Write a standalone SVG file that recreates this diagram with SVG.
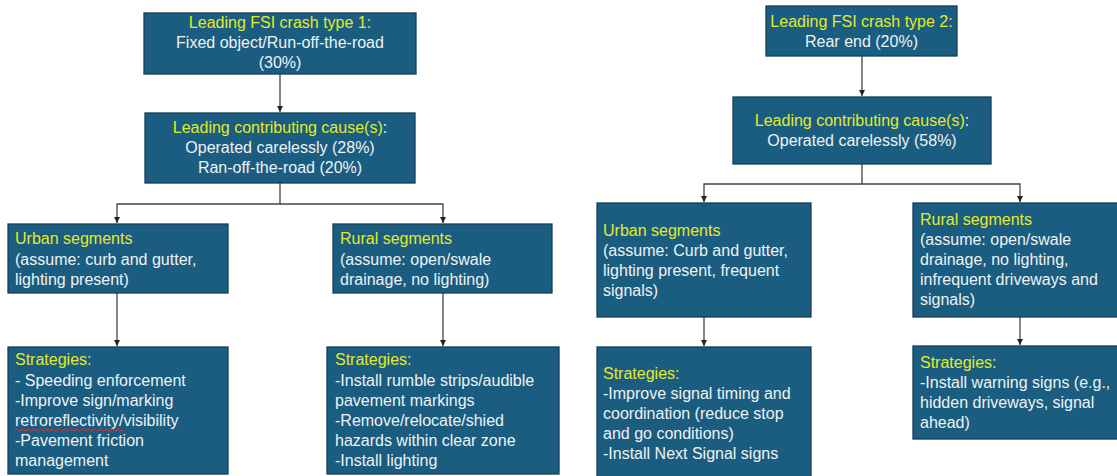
<svg xmlns="http://www.w3.org/2000/svg" width="1117" height="476" viewBox="0 0 1117 476">
<style>
.box{fill:#1a5d80;stroke:#143e55;stroke-width:1.3}
text{font-family:"Liberation Sans",Arial,sans-serif;font-size:16px;fill:#eef2f4}
.y{fill:#e4ea2a}
.w{fill:#eef2f4}
.c{text-anchor:middle}
.conn{fill:none;stroke:#444;stroke-width:1.3}
</style>
<defs>
<marker id="ah" markerUnits="userSpaceOnUse" markerWidth="7" markerHeight="7" refX="6" refY="3" orient="auto">
<path d="M0,0 L6,3 L0,6 z" fill="#222"/>
</marker>
</defs>
<rect width="1117" height="476" fill="#ffffff"/>
<g id="connectors">
<path class="conn" d="M280 74 V112" marker-end="url(#ah)"/>
<path class="conn" d="M280 183 V204 H117 V223" marker-end="url(#ah)"/>
<path class="conn" d="M280 204 H443 V223" marker-end="url(#ah)"/>
<path class="conn" d="M117 293 V346" marker-end="url(#ah)"/>
<path class="conn" d="M443 293 V346" marker-end="url(#ah)"/>
<path class="conn" d="M862 56 V96" marker-end="url(#ah)"/>
<path class="conn" d="M862 164 V184 H704 V202" marker-end="url(#ah)"/>
<path class="conn" d="M862 184 H1020 V202" marker-end="url(#ah)"/>
<path class="conn" d="M704 317 V346" marker-end="url(#ah)"/>
<path class="conn" d="M1020 317 V345" marker-end="url(#ah)"/>
</g>
<g id="crash1">
<rect class="box" x="144" y="13" width="272" height="61"/>
<text class="c y" x="280" y="28">Leading FSI crash type 1:</text>
<text class="c" x="280" y="48">Fixed object/Run-off-the-road</text>
<text class="c" x="280" y="68">(30%)</text>
</g>
<g id="cause1">
<rect class="box" x="145" y="113" width="270" height="70"/>
<text class="c" x="280" y="133"><tspan class="y">Leading contributing cause(s)</tspan>:</text>
<text class="c" x="280" y="153">Operated carelessly (28%)</text>
<text class="c" x="280" y="173">Ran-off-the-road (20%)</text>
</g>
<g id="urban1">
<rect class="box" x="8" y="224" width="220" height="69"/>
<text class="y" x="15" y="244">Urban segments</text>
<text x="15" y="265">(assume: curb and gutter,</text>
<text x="15" y="285">lighting present)</text>
</g>
<g id="rural1">
<rect class="box" x="333" y="224" width="219" height="69"/>
<text class="y" x="340" y="244">Rural segments</text>
<text x="340" y="265">(assume: open/swale</text>
<text x="340" y="285">drainage, no lighting)</text>
</g>
<g id="strat-urban1">
<rect class="box" x="8" y="347" width="220" height="127"/>
<text class="y" x="15" y="365">Strategies:</text>
<text x="15" y="386">- Speeding enforcement</text>
<text x="15" y="406">-Improve sign/marking</text>
<text x="15" y="426">retroreflectivity/visibility</text>
<path d="M15 430 q1.5 -2 3 0 t3 0 t3 0 t3 0 t3 0 t3 0 t3 0 t3 0 t3 0 t3 0 t3 0 t3 0 t3 0 t3 0 t3 0 t3 0 t3 0 t3 0 t3 0 t3 0 t3 0 t3 0 t3 0 t3 0 t3 0 t3 0 t3 0 t3 0 t3 0 t3 0 t3 0 t3 0 t3 0 t3 0 t3 0 t3 0" fill="none" stroke="#d23a3a" stroke-width="1"/>
<text x="15" y="446">-Pavement friction</text>
<text x="15" y="466">management</text>
</g>
<g id="strat-rural1">
<rect class="box" x="327" y="347" width="232" height="127"/>
<text class="y" x="335" y="365">Strategies:</text>
<text x="335" y="386">-Install rumble strips/audible</text>
<text x="335" y="406">pavement markings</text>
<text x="335" y="426">-Remove/relocate/shied</text>
<text x="335" y="446">hazards within clear zone</text>
<text x="335" y="466">-Install lighting</text>
</g>
<g id="crash2">
<rect class="box" x="766" y="6" width="191" height="50"/>
<text class="c y" x="861.5" y="27">Leading FSI crash type 2:</text>
<text class="c" x="861.5" y="47">Rear end (20%)</text>
</g>
<g id="cause2">
<rect class="box" x="733" y="97" width="258" height="67"/>
<text class="c" x="862" y="126"><tspan class="y">Leading contributing cause(s)</tspan>:</text>
<text class="c" x="862" y="146">Operated carelessly (58%)</text>
</g>
<g id="urban2">
<rect class="box" x="597" y="203" width="214" height="114"/>
<text class="y" x="603" y="236">Urban segments</text>
<text x="603" y="256">(assume: Curb and gutter,</text>
<text x="603" y="276">lighting present, frequent</text>
<text x="603" y="296">signals)</text>
</g>
<g id="rural2">
<rect class="box" x="913" y="203" width="206" height="114"/>
<text class="y" x="920" y="225">Rural segments</text>
<text x="920" y="245">(assume: open/swale</text>
<text x="920" y="265">drainage, no lighting,</text>
<text x="920" y="285">infrequent driveways and</text>
<text x="920" y="305">signals)</text>
</g>
<g id="strat-urban2">
<rect class="box" x="597" y="347" width="214" height="131"/>
<text class="y" x="603" y="379">Strategies:</text>
<text x="603" y="399">-Improve signal timing and</text>
<text x="603" y="419">coordination (reduce stop</text>
<text x="603" y="439">and go conditions)</text>
<text x="603" y="459">-Install Next Signal signs</text>
</g>
<g id="strat-rural2">
<rect class="box" x="913" y="346" width="206" height="93"/>
<text class="y" x="920" y="368">Strategies:</text>
<text x="920" y="388">-Install warning signs (e.g.,</text>
<text x="920" y="408">hidden driveways, signal</text>
<text x="920" y="428">ahead)</text>
</g>
</svg>
